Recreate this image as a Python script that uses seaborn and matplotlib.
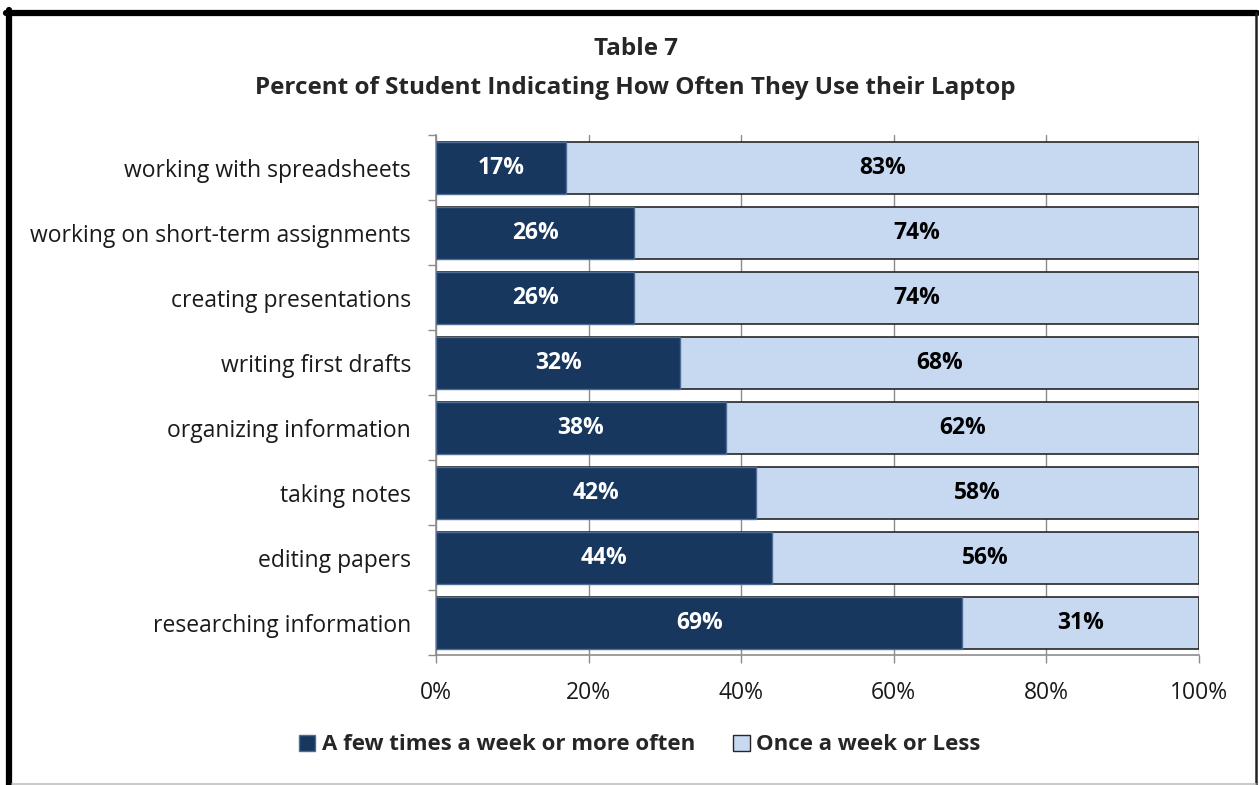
import numpy as np
import pandas as pd
import matplotlib.pyplot as plt
import seaborn as sns
from matplotlib.patches import Patch
from matplotlib.lines import Line2D

activities = [
    "working with spreadsheets",
    "working on short-term assignments",
    "creating presentations",
    "writing first drafts",
    "organizing information",
    "taking notes",
    "editing papers",
    "researching information",
]
few_times = [17, 26, 26, 32, 38, 42, 44, 69]
once_or_less = [83, 74, 74, 68, 62, 58, 56, 31]
series_names = ["A few times a week or more often", "Once a week or Less"]
x_ticks = [0, 20, 40, 60, 80, 100]

DARK = "#17375E"
LIGHT = "#C6D9F1"
FONT = ["Open Sans", "DejaVu Sans"]

sns.set_theme(style="white")
plt.rcParams["font.family"] = FONT

df = pd.DataFrame({"activity": activities, "few": few_times, "once": once_or_less})
df["total"] = df["few"] + df["once"]

fig = plt.figure(figsize=(12.59, 7.85), dpi=100)
ax = fig.add_axes([0.3463, 0.1656, 0.6060, 0.6624])

# light bars span the full stack, dark bars drawn on top
sns.barplot(data=df, y="activity", x="total", order=activities, color=LIGHT,
            width=0.8, edgecolor="#262626", linewidth=1.2, saturation=1, ax=ax, zorder=2)
sns.barplot(data=df, y="activity", x="few", order=activities, color=DARK,
            width=0.8, edgecolor="#4F6C95", linewidth=1.0, saturation=1, ax=ax, zorder=3)

dark_bars = ax.containers[1]
ax.bar_label(dark_bars, labels=[f"{v}%" for v in few_times], label_type="center",
             color="white", fontsize=16.5, fontweight="bold", family=FONT)
for i, (f, o) in enumerate(zip(few_times, once_or_less)):
    ax.text(f + o / 2, i, f"{o}%", ha="center", va="center", color="black",
            fontsize=16.5, fontweight="bold", family=FONT, zorder=4)

ax.set_xlim(0, 100)
ax.set_ylim(7.5, -0.5)
ax.set_xticks(x_ticks)
ax.set_xticklabels([f"{t}%" for t in x_ticks], fontsize=16.5, color="#1a1a1a")
ax.tick_params(axis="x", length=6, color="#8c8c8c", width=1, pad=13, direction="out",
               bottom=True)
ax.set_yticks(range(len(activities)))
ax.set_yticklabels(activities, fontsize=16.5, color="#1a1a1a")
ax.set_yticks(np.arange(-0.5, len(activities)), minor=True)
ax.tick_params(axis="y", which="major", length=0, pad=18)
ax.tick_params(axis="y", which="minor", length=6, color="#8c8c8c", width=1, left=True)
ax.xaxis.grid(True, color="#8c8c8c", linewidth=1)
ax.set_axisbelow(True)
ax.set_xlabel("")
ax.set_ylabel("")
for side in ["top", "right"]:
    ax.spines[side].set_visible(False)
for side in ["left", "bottom"]:
    ax.spines[side].set_color("#8c8c8c")
    ax.spines[side].set_linewidth(1.2)

fig.text(0.505, 0.937, "Table 7", ha="center", va="center", fontsize=17.5,
         fontweight="bold", family=FONT)
fig.text(0.505, 0.888, "Percent of Student Indicating How Often They Use their Laptop",
         ha="center", va="center", fontsize=17.5, fontweight="bold", family=FONT)

handles = [Patch(facecolor=DARK, edgecolor="#4F6C95"),
           Patch(facecolor=LIGHT, edgecolor="#262626")]
leg = fig.legend(handles, series_names, loc="center", bbox_to_anchor=(0.508, 0.051),
                 ncol=2, frameon=False, handlelength=0.75, handleheight=0.75,
                 handletextpad=0.3, columnspacing=1.7,
                 prop={"family": FONT, "size": 16, "weight": "bold"})

# frame around the figure
fig.add_artist(Line2D([9 / 1259, 9 / 1259], [0, 1 - 10 / 785], color="black",
                      linewidth=4.5, transform=fig.transFigure))
fig.add_artist(Line2D([6 / 1259, 1257 / 1259], [1 - 13 / 785, 1 - 13 / 785],
                      color="black", linewidth=4.5, transform=fig.transFigure))
fig.add_artist(Line2D([1256 / 1259, 1256 / 1259], [0, 1 - 13 / 785], color="#222222",
                      linewidth=1.8, transform=fig.transFigure))
fig.add_artist(Line2D([12 / 1259, 1256 / 1259], [1.5 / 785, 1.5 / 785], color="#c0c0c0",
                      linewidth=1.2, transform=fig.transFigure))

fig.savefig("out.png", dpi=100, facecolor="white")
